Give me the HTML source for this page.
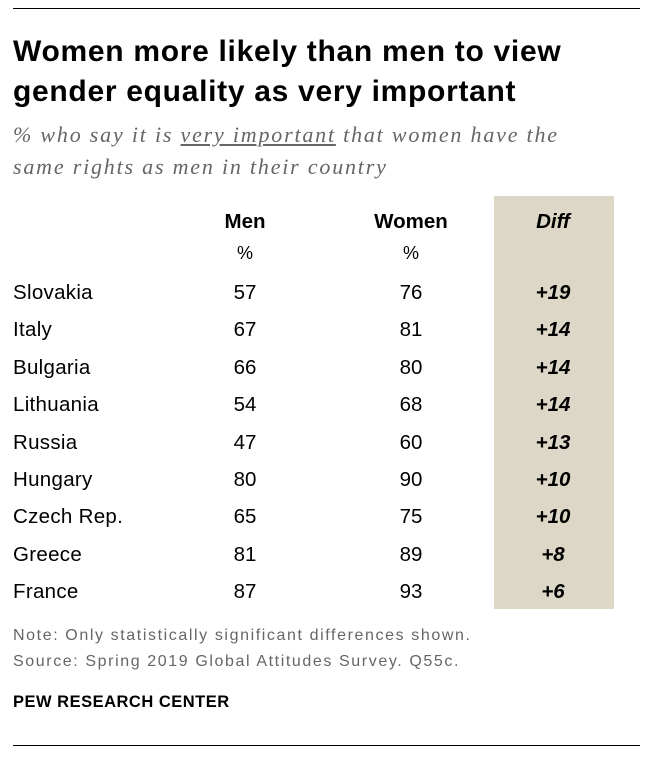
<!DOCTYPE html>
<html><head><meta charset="utf-8">
<style>
body{margin:0;width:650px;height:758px;background:#fff;font-family:"Liberation Sans",Arial,sans-serif;position:relative;overflow:hidden}
.abs{position:absolute}
.rule{position:absolute;left:13px;width:627px;height:1px;background:#000}
#title{left:13px;top:32px;font-size:30px;font-weight:bold;line-height:40px;color:#000;letter-spacing:0.7px;white-space:nowrap}
#subtitle{left:13px;top:119px;font-family:"Liberation Serif",serif;font-style:italic;font-size:22px;line-height:32px;color:#666;letter-spacing:1.8px;white-space:nowrap}
#diffbg{left:494px;top:196px;width:120px;height:413px;background:#dcd7c6}
.c{position:absolute;font-size:20.5px;color:#000;text-align:center;width:100px;transform:translateX(-50%)}
.l{position:absolute;font-size:20.5px;color:#000;left:13px;letter-spacing:0.3px}
.note{left:13px;font-size:16px;color:#666;letter-spacing:1.6px;white-space:nowrap}
</style></head><body>
<div class="rule" style="top:8px"></div>
<div id="title" class="abs">Women more likely than men to view<br>gender equality as very important</div>
<div id="subtitle" class="abs">% who say it is <span style="text-decoration:underline">very important</span> that women have the<br>same rights as men in their country</div>
<div id="diffbg" class="abs"></div>
<div class="c" style="left:245px;top:210px;font-weight:bold">Men</div>
<div class="c" style="left:245px;top:243px;font-size:18px">%</div>
<div class="c" style="left:411px;top:210px;font-weight:bold">Women</div>
<div class="c" style="left:411px;top:243px;font-size:18px">%</div>
<div class="c" style="left:553px;top:210px;font-weight:bold;font-style:italic">Diff</div>
<div id="rows"></div>
<div class="abs note" style="top:627px">Note: Only statistically significant differences shown.</div>
<div class="abs note" style="top:653px">Source: Spring 2019 Global Attitudes Survey. Q55c.</div>
<div class="abs" style="left:13px;top:693px;font-size:16.5px;font-weight:bold;color:#000;letter-spacing:0.5px">PEW RESEARCH CENTER</div>
<div class="rule" style="top:745px"></div>
<script>
const countries=["Slovakia","Italy","Bulgaria","Lithuania","Russia","Hungary","Czech Rep.","Greece","France"];
const men=[57,67,66,54,47,80,65,81,87];
const women=[76,81,80,68,60,90,75,89,93];
const diffs=[19,14,14,14,13,10,10,8,6];
const rows=document.getElementById('rows');
countries.forEach((c,i)=>{
  const top=281+i*37.4;
  const a=document.createElement('div');a.className='l';a.style.top=top+'px';a.textContent=c;
  
  
  rows.appendChild(a);
  const m=document.createElement('div');m.className='c';m.style.left='245px';m.style.top=top+'px';m.textContent=men[i];
  
  
  rows.appendChild(m);
  const w=document.createElement('div');w.className='c';w.style.left='411px';w.style.top=top+'px';w.textContent=women[i];
  
  
  rows.appendChild(w);
  const d=document.createElement('div');d.className='c';d.style.left='553px';d.style.top=top+'px';d.style.fontWeight='bold';d.style.fontStyle='italic';d.textContent='+'+diffs[i];
  
  
  rows.appendChild(d);
});
</script>
</body></html>
